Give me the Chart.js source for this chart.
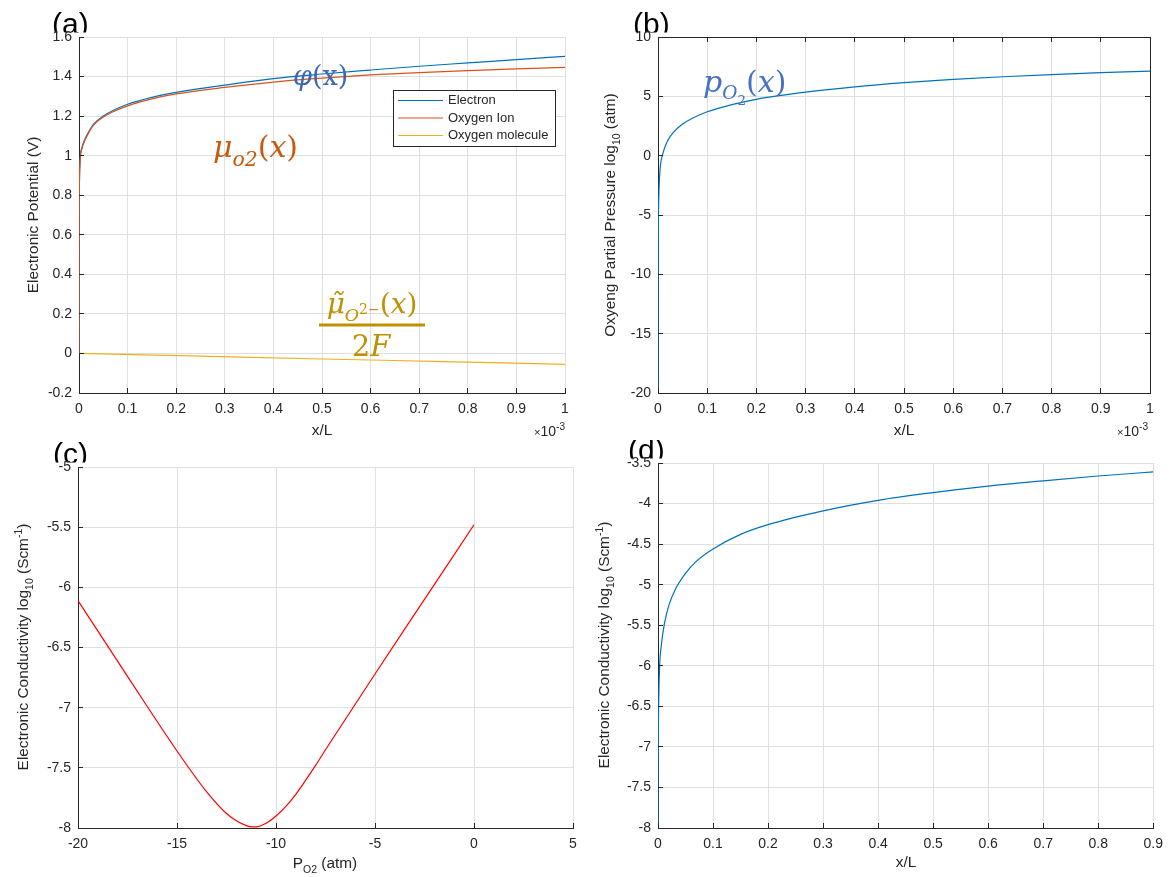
<!DOCTYPE html>
<html>
<head>
<meta charset="utf-8">
<title>Potential, oxygen pressure and conductivity profiles</title>
<script src="https://cdn.jsdelivr.net/npm/chart.js@4.4.1/dist/chart.umd.min.js"></script>
<style>
    html, body { margin: 0; padding: 0; background: #fff; }
    #figure { position: relative; width: 1171px; height: 877px; overflow: hidden; }
    #figure canvas { position: absolute; }
</style>
</head>
<body>
<div id="figure">
    <canvas id="panel-a" width="585" height="440" style="left:0;top:0"></canvas>
    <canvas id="panel-b" width="586" height="440" style="left:585px;top:0"></canvas>
    <canvas id="panel-c" width="585" height="437" style="left:0;top:440px"></canvas>
    <canvas id="panel-d" width="586" height="437" style="left:585px;top:440px"></canvas>
</div>
<script>
'use strict';

// (a) potentials, x/L in units of 1e-3
var potentialX = [0, 0.0003, 0.001, 0.003, 0.006, 0.01, 0.0165, 0.03, 0.05, 0.07, 0.1, 0.15, 0.2, 0.3, 0.4, 0.5, 0.6, 0.7, 0.8, 0.9, 1];
var electron = [0, 0.65, 0.88, 1.0, 1.04, 1.07, 1.105, 1.16, 1.2, 1.228, 1.26, 1.295, 1.32, 1.357, 1.39, 1.413, 1.433, 1.452, 1.469, 1.486, 1.502];
var oxygenIon = [0, 0.65, 0.88, 0.995, 1.035, 1.065, 1.1, 1.155, 1.195, 1.222, 1.252, 1.287, 1.312, 1.345, 1.372, 1.392, 1.408, 1.42, 1.43, 1.439, 1.446];
var moleculeX = [0, 0.25, 0.5, 0.75, 1];
var oxygenMolecule = [0, -0.014, -0.028, -0.041, -0.055];

// (b) log10 oxygen partial pressure, x/L in units of 1e-3
var pressureX = [0, 0.0005, 0.001, 0.002, 0.003, 0.005, 0.01, 0.02, 0.03, 0.05, 0.07, 0.1, 0.15, 0.2, 0.3, 0.4, 0.5, 0.6, 0.7, 0.8, 0.9, 1];
var logPressure = [-20, -8, -5, -3, -1.9, -0.8, 0.2, 1.29, 1.9, 2.66, 3.15, 3.7, 4.3, 4.75, 5.35, 5.8, 6.15, 6.43, 6.65, 6.83, 6.99, 7.13];

// (c) log10 conductivity against log10 P_O2
var pO2 = [-20, -17.5, -15, -13.5, -12.5, -12, -11.5, -11.2, -11, -10.5, -10, -9.5, -9, -8, -7.5, -5, -2.5, 0];
var condVsP = [-6.11, -6.74, -7.36, -7.70, -7.88, -7.94, -7.98, -7.99, -7.99, -7.96, -7.90, -7.82, -7.72, -7.48, -7.35, -6.72, -6.10, -5.48];

// (d) log10 conductivity against x/L
var condX = [0, 0.0003, 0.001, 0.0027, 0.006, 0.0117, 0.02, 0.032, 0.05, 0.07, 0.1, 0.15, 0.2, 0.3, 0.4, 0.5, 0.6, 0.7, 0.8, 0.9];
var condVsX = [-8, -7.2, -6.6, -6.05, -5.75, -5.48, -5.25, -5.05, -4.86, -4.71, -4.56, -4.38, -4.26, -4.09, -3.96, -3.865, -3.785, -3.72, -3.66, -3.61];

var SANS = '"Liberation Sans", Arial, Helvetica, sans-serif';
var SERIF = '"DejaVu Serif", "Liberation Serif", serif';
var INK = '#262626';
var GRID = '#dfdfdf';
var TICK_FONT = 14;
var LABEL_FONT = 15.4;

function fmt(v) {
    return String(Math.round(v * 100) / 100);
}

function pts(xs, ys) {
    return xs.map(function (x, i) { return { x: x, y: ys[i] }; });
}

// Draw a run of text pieces (normal / sub / sup / custom offset) centred or
// anchored at (x, y), y being the baseline. Returns the total width.
function drawRich(ctx, parts, x, y, o) {
    ctx.save();
    ctx.translate(x, y);
    if (o.angle) ctx.rotate(o.angle);
    ctx.fillStyle = o.color || INK;
    ctx.textBaseline = 'alphabetic';
    var runs = parts.map(function (p) {
        var scale = p.scale || ((p.k === 'sub' || p.k === 'sup') ? 0.68 : 1);
        var dy = p.dy !== undefined ? p.dy : (p.k === 'sub' ? 0.3 : p.k === 'sup' ? -0.42 : 0);
        var font = (p.it ? 'italic ' : '') + (o.size * scale) + 'px ' + (p.family || o.family || SANS);
        ctx.font = font;
        return { t: p.t, font: font, w: ctx.measureText(p.t).width, dy: dy * o.size };
    });
    var total = runs.reduce(function (s, r) { return s + r.w; }, 0);
    var cx = o.align === 'left' ? 0 : (o.align === 'right' ? -total : -total / 2);
    runs.forEach(function (r) {
        ctx.font = r.font;
        ctx.fillText(r.t, cx, r.dy);
        cx += r.w;
    });
    ctx.restore();
    return total;
}

function xTitle(ctx, parts, cx, cy) {
    drawRich(ctx, parts, cx, cy + LABEL_FONT * 0.35, { size: LABEL_FONT });
}

function yTitle(ctx, parts, cx, cy) {
    drawRich(ctx, parts, cx + LABEL_FONT * 0.35, cy, { size: LABEL_FONT, angle: -Math.PI / 2 });
}

function exponentNote(ctx, right, baseline) {
    drawRich(ctx, [
        { t: '\u00d7', scale: 0.8 },
        { t: '10' },
        { t: '-3', scale: 0.72, dy: -0.45 }
    ], right, baseline, { size: TICK_FONT, align: 'right' });
}

// Panel letter, partly hidden behind the top of the axes
function panelTag(ctx, text, x, top) {
    ctx.save();
    ctx.beginPath();
    ctx.rect(x - 10, top - 45, 90, 40.5);
    ctx.clip();
    ctx.font = '30px ' + SANS;
    ctx.fillStyle = '#000';
    ctx.textBaseline = 'alphabetic';
    ctx.fillText(text, x, top - 3);
    ctx.restore();
}

function align(p) {
    return Math.round(p - 0.5) + 0.5;
}

// MATLAB-style ticks pointing into the plot, optionally with a full box
function inwardTicks(chart, boxed) {
    var ctx = chart.ctx;
    var a = chart.chartArea;
    var sx = chart.scales.x;
    var sy = chart.scales.y;
    var len = 5;
    ctx.save();
    ctx.strokeStyle = INK;
    ctx.lineWidth = 1;
    ctx.beginPath();
    sx.ticks.forEach(function (t) {
        var px = align(sx.getPixelForValue(t.value));
        ctx.moveTo(px, a.bottom);
        ctx.lineTo(px, a.bottom - len);
        if (boxed) {
            ctx.moveTo(px, a.top);
            ctx.lineTo(px, a.top + len);
        }
    });
    sy.ticks.forEach(function (t) {
        var py = align(sy.getPixelForValue(t.value));
        ctx.moveTo(a.left, py);
        ctx.lineTo(a.left + len, py);
        if (boxed) {
            ctx.moveTo(a.right, py);
            ctx.lineTo(a.right - len, py);
        }
    });
    if (boxed) {
        ctx.moveTo(a.left, align(a.top));
        ctx.lineTo(a.right, align(a.top));
        ctx.moveTo(align(a.right), a.top);
        ctx.lineTo(align(a.right), a.bottom);
    }
    ctx.stroke();
    ctx.restore();
}

function axis(min, max, step, pad) {
    return {
        type: 'linear',
        min: min,
        max: max,
        grid: { color: GRID, lineWidth: 1, drawTicks: false },
        border: { display: true, color: INK, width: 1 },
        ticks: {
            stepSize: step,
            autoSkip: false,
            maxRotation: 0,
            padding: pad,
            color: INK,
            font: { family: SANS, size: TICK_FONT },
            callback: function (v) { return fmt(v); }
        }
    };
}

function line(label, data, color, order) {
    return {
        label: label,
        data: data,
        borderColor: color,
        backgroundColor: color,
        borderWidth: 1.2,
        pointRadius: 0,
        fill: false,
        cubicInterpolationMode: 'monotone',
        order: order
    };
}

// p: { id, ox, oy, area:{l,r,t,b} in page pixels, x, y, datasets, tag, boxed, draw }
function buildPanel(p) {
    var canvas = document.getElementById(p.id);
    var w = canvas.width;
    var h = canvas.height;
    var area = { l: p.area.l - p.ox, r: p.area.r - p.ox, t: p.area.t - p.oy, b: p.area.b - p.oy };

    p.x.afterFit = function (s) { s.height = h - area.b; };
    p.y.afterFit = function (s) { s.width = area.l; };

    var decorations = {
        id: 'decorations',
        beforeDraw: function (chart) {
            var ctx = chart.ctx;
            ctx.save();
            ctx.translate(-p.ox, -p.oy);
            panelTag(ctx, p.tag[0], p.tag[1], p.area.t);
            ctx.restore();
        },
        afterDraw: function (chart) {
            var ctx = chart.ctx;
            inwardTicks(chart, p.boxed);
            ctx.save();
            ctx.translate(-p.ox, -p.oy);
            p.draw(ctx, chart);
            ctx.restore();
        }
    };

    return new Chart(canvas.getContext('2d'), {
        type: 'line',
        data: { datasets: p.datasets },
        options: {
            responsive: false,
            animation: false,
            devicePixelRatio: 1,
            events: [],
            layout: { padding: { left: 0, top: area.t, right: w - area.r, bottom: 0 } },
            scales: { x: p.x, y: p.y },
            plugins: { legend: { display: false }, tooltip: { enabled: false } }
        },
        plugins: [decorations]
    });
}

// (a) Electronic potential
buildPanel({
    id: 'panel-a', ox: 0, oy: 0,
    area: { l: 79, r: 565, t: 37, b: 393 },
    x: axis(0, 1, 0.1, 8),
    y: axis(-0.2, 1.6, 0.2, 7),
    tag: ['(a)', 52],
    boxed: false,
    datasets: [
        line('Electron', pts(potentialX, electron), '#0072bd', 3),
        line('Oxygen Ion', pts(potentialX, oxygenIon), '#d95319', 2),
        line('Oxygen molecule', pts(moleculeX, oxygenMolecule), '#edb120', 1)
    ],
    draw: function (ctx, chart) {
        xTitle(ctx, [{ t: 'x/L' }], 322, 430);
        yTitle(ctx, [{ t: 'Electronic Potential (V)' }], 33, 215);
        exponentNote(ctx, 565, 436);

        // legend
        var x0 = 393, y0 = 90, lw = 162, lh = 56;
        ctx.fillStyle = '#fff';
        ctx.fillRect(x0, y0, lw, lh);
        ctx.strokeStyle = INK;
        ctx.lineWidth = 1;
        ctx.strokeRect(x0 + 0.5, y0 + 0.5, lw, lh);
        chart.data.datasets.forEach(function (ds, i) {
            var y = y0 + 10.5 + i * 17.5;
            ctx.strokeStyle = ds.borderColor;
            ctx.lineWidth = 1.2;
            ctx.beginPath();
            ctx.moveTo(x0 + 5, y);
            ctx.lineTo(x0 + 50, y);
            ctx.stroke();
            ctx.fillStyle = INK;
            ctx.font = '13px ' + SANS;
            ctx.textBaseline = 'middle';
            ctx.fillText(ds.label, x0 + 55, y);
        });

        // curve names
        drawRich(ctx, [{ t: '\u03c6', it: true }, { t: '(x)' }], 293, 85,
            { size: 27, family: SERIF, color: '#3d66b5', align: 'left' });
        drawRich(ctx, [
            { t: '\u03bc', it: true },
            { t: 'o2', it: true, k: 'sub' },
            { t: '(' }, { t: 'x', it: true }, { t: ')' }
        ], 213, 157, { size: 30, family: SERIF, color: '#c55a11', align: 'left' });

        var gold = '#bf9000';
        drawRich(ctx, [
            { t: '\u03bc\u0303', it: true },
            { t: 'O', it: true, scale: 0.62, dy: 0.28 },
            { t: '2\u2212', scale: 0.5, dy: 0.02 },
            { t: '(' }, { t: 'x', it: true }, { t: ')' }
        ], 372, 313, { size: 28, family: SERIF, color: gold });
        ctx.fillStyle = gold;
        ctx.fillRect(319, 323.5, 106, 3);
        drawRich(ctx, [{ t: '2' }, { t: 'F', it: true }], 371, 356,
            { size: 29, family: SERIF, color: gold });
    }
});

// (b) Oxygen partial pressure
buildPanel({
    id: 'panel-b', ox: 585, oy: 0,
    area: { l: 658, r: 1150, t: 37, b: 393 },
    x: axis(0, 1, 0.1, 8),
    y: axis(-20, 10, 5, 7),
    tag: ['(b)', 633],
    boxed: true,
    datasets: [line('pO2', pts(pressureX, logPressure), '#0072bd', 1)],
    draw: function (ctx) {
        xTitle(ctx, [{ t: 'x/L' }], 904, 430);
        yTitle(ctx, [{ t: 'Oxyeng Partial Pressure log' }, { t: '10', k: 'sub' }, { t: ' (atm)' }], 610, 215);
        exponentNote(ctx, 1148, 436);
        drawRich(ctx, [
            { t: 'p', it: true },
            { t: 'O', it: true, scale: 0.62, dy: 0.22 },
            { t: '2', scale: 0.45, dy: 0.42 },
            { t: '(' }, { t: 'x', it: true }, { t: ')' }
        ], 703, 92, { size: 30, family: SERIF, color: '#4472c4', align: 'left' });
    }
});

// (c) Conductivity against oxygen partial pressure
buildPanel({
    id: 'panel-c', ox: 0, oy: 440,
    area: { l: 78, r: 573, t: 467, b: 828 },
    x: axis(-20, 5, 5, 8),
    y: axis(-8, -5, 0.5, 7),
    tag: ['(c)', 53],
    boxed: false,
    datasets: [line('Conductivity', pts(pO2, condVsP), '#ff0000', 1)],
    draw: function (ctx) {
        xTitle(ctx, [{ t: 'P' }, { t: 'O2', k: 'sub' }, { t: ' (atm)' }], 325, 863);
        yTitle(ctx, [
            { t: 'Electronic Conductivity log' }, { t: '10', k: 'sub' },
            { t: ' (Scm' }, { t: '-1', k: 'sup' }, { t: ')' }
        ], 23, 647);
    }
});

// (d) Conductivity across the cell
buildPanel({
    id: 'panel-d', ox: 585, oy: 440,
    area: { l: 658, r: 1155, t: 463, b: 828 },
    x: axis(0, 0.9, 0.1, 8),
    y: axis(-8, -3.5, 0.5, 7),
    tag: ['(d)', 628],
    boxed: false,
    datasets: [line('Conductivity', pts(condX, condVsX), '#0072bd', 1)],
    draw: function (ctx) {
        xTitle(ctx, [{ t: 'x/L' }], 906, 862);
        yTitle(ctx, [
            { t: 'Electronic Conductivity log' }, { t: '10', k: 'sub' },
            { t: ' (Scm' }, { t: '-1', k: 'sup' }, { t: ')' }
        ], 604, 645);
    }
});
</script>
</body>
</html>
